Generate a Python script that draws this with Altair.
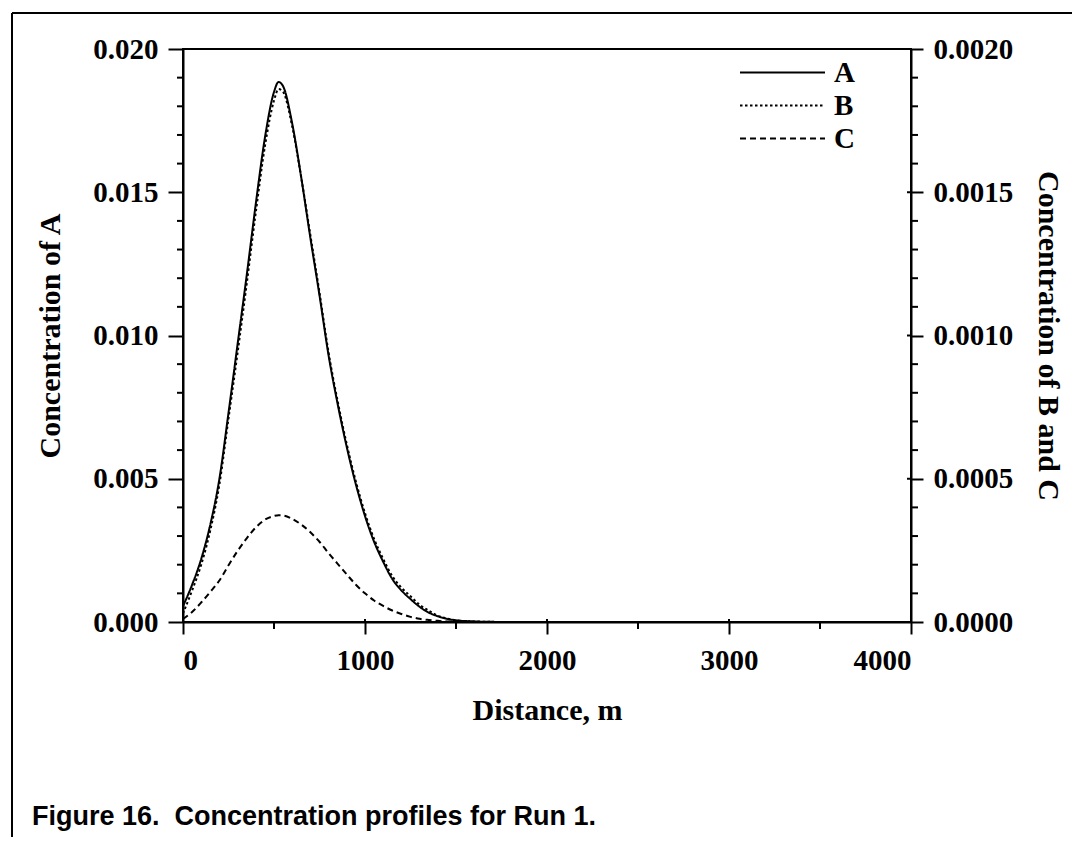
import altair as alt
import pandas as pd

# ---- data ----
dist = [0, 50, 100, 150, 200, 250, 300, 350, 400, 450, 500, 525, 550, 600, 650, 700,
        750, 800, 850, 900, 950, 1000, 1050, 1100, 1150, 1200, 1250, 1300, 1350, 1400,
        1450, 1500, 1600, 1700, 1800, 2000, 2500, 3000, 3500, 4000]

conc_a = [0.00055, 0.0013, 0.0022, 0.0034, 0.0050, 0.0073, 0.0097, 0.0121, 0.0146, 0.0169,
          0.0185, 0.01885, 0.0187, 0.0174, 0.0155, 0.0134, 0.0114, 0.0093, 0.0076, 0.0061,
          0.0048, 0.0037, 0.0028, 0.0021, 0.0015, 0.0011, 0.0008, 0.00053, 0.00033, 0.0002,
          0.00011, 0.00006, 0.00002, 0.000005, 0, 0, 0, 0, 0, 0]

conc_b = [0.00003, 0.00011, 0.00020, 0.00032, 0.00048, 0.00071, 0.00094, 0.00118, 0.00143, 0.00166,
          0.00182, 0.00186, 0.00185, 0.00173, 0.00155, 0.00135, 0.00115, 0.00094, 0.00077, 0.00062,
          0.00049, 0.00038, 0.00029, 0.00022, 0.00016, 0.00012, 0.00009, 0.00006, 0.00004, 0.000022,
          0.000012, 0.000006, 0.000002, 0.0000005, 0, 0, 0, 0, 0, 0]

conc_c = [0.000011, 0.000035, 0.000068, 0.000105, 0.000145, 0.000198, 0.000248, 0.000292, 0.00033, 0.000357,
          0.00037, 0.000373, 0.000372, 0.00036, 0.00034, 0.000313, 0.00028, 0.00024, 0.000203, 0.000166,
          0.00013, 0.0001, 0.000075, 0.000056, 0.00004, 0.000028, 0.000018, 0.000011, 0.000007, 0.000004,
          0.000002, 0.000001, 0, 0, 0, 0, 0, 0, 0, 0]

series_names = ["A", "B", "C"]

x_major = [0, 1000, 2000, 3000, 4000]
x_minor = [500, 1500, 2500, 3500]
left_major = [0.0, 0.005, 0.010, 0.015, 0.020]
left_minor = [0.001, 0.002, 0.003, 0.004, 0.006, 0.007, 0.008, 0.009,
              0.011, 0.012, 0.013, 0.014, 0.016, 0.017, 0.018, 0.019]
right_major = [0.0, 0.0005, 0.0010, 0.0015, 0.0020]
right_minor = [0.0001, 0.0002, 0.0003, 0.0004, 0.0006, 0.0007, 0.0008, 0.0009,
               0.0011, 0.0012, 0.0013, 0.0014, 0.0016, 0.0017, 0.0018, 0.0019]

caption = "Figure 16.\u00a0 Concentration profiles for Run 1."

# ---- layout ----
W, H = 728, 573
SERIF = "Liberation Serif"
SANS = "Liberation Sans"

df_a = pd.DataFrame({"dist": dist, "conc": conc_a, "series": "A"})
df_bc = pd.concat([
    pd.DataFrame({"dist": dist, "conc": conc_b, "series": "B"}),
    pd.DataFrame({"dist": dist, "conc": conc_c, "series": "C"}),
], ignore_index=True)
one = pd.DataFrame({"k": [0]})

x_scale = alt.Scale(domain=[0, 4000], nice=False)
x_axis = alt.Axis(values=x_major, format="d", title="Distance, m", tickSize=12,
                  labelPadding=12, titlePadding=20)
yl_scale = alt.Scale(domain=[0, 0.02], nice=False)
yr_scale = alt.Scale(domain=[0, 0.002], nice=False)
yl_axis = alt.Axis(orient="left", values=left_major, format=".3f",
                   title="Concentration of A", tickSize=15, labelPadding=10,
                   titlePadding=27)
yr_axis = alt.Axis(orient="right", values=right_major, format=".4f",
                   title="Concentration of B and C", tickSize=12, labelPadding=10,
                   titlePadding=20)

dash_scale = alt.Scale(domain=series_names, range=[[1, 0], [2.5, 2.5], [6, 4]])
legend = alt.Legend(title=None, orient="none", legendX=556, legendY=8,
                    symbolType="stroke", symbolSize=7225, symbolStrokeWidth=2,
                    symbolStrokeColor="black", clipHeight=31, rowPadding=2,
                    labelFont=SERIF, labelFontWeight="bold", labelFontSize=29,
                    labelColor="black", labelOffset=8, padding=0)

line_a = alt.Chart(df_a).mark_line(color="black", strokeWidth=2, interpolate="monotone").encode(
    x=alt.X("dist:Q", scale=x_scale, axis=x_axis),
    y=alt.Y("conc:Q", scale=yl_scale, axis=yl_axis),
    strokeDash=alt.StrokeDash("series:N", scale=dash_scale, legend=legend),
)

minor_left = alt.Chart(pd.DataFrame({"v": left_minor})).mark_rule(color="black", strokeWidth=2).encode(
    y=alt.Y("v:Q", scale=yl_scale, axis=yl_axis),
    x=alt.value(-6), x2=alt.value(0),
)

minor_x = alt.Chart(pd.DataFrame({"v": x_minor})).mark_rule(color="black", strokeWidth=2).encode(
    x=alt.X("v:Q", scale=x_scale, axis=x_axis),
    y=alt.value(H), y2=alt.value(H + 7),
)

major_x_inner = alt.Chart(pd.DataFrame({"v": x_major})).mark_rule(color="black", strokeWidth=2).encode(
    x=alt.X("v:Q", scale=x_scale, axis=x_axis),
    y=alt.value(H - 3), y2=alt.value(H),
)

frame_left = alt.Chart(one).mark_rule(color="black", strokeWidth=2).encode(
    x=alt.value(-171), y=alt.value(-36), y2=alt.value(790))
frame_top = alt.Chart(one).mark_rule(color="black", strokeWidth=2).encode(
    x=alt.value(-171), x2=alt.value(900), y=alt.value(-36))

left_group = alt.layer(line_a, minor_left, minor_x, major_x_inner, frame_left, frame_top)

line_bc = alt.Chart(df_bc).mark_line(color="black", strokeWidth=2, interpolate="monotone").encode(
    x=alt.X("dist:Q", scale=x_scale, axis=x_axis),
    y=alt.Y("conc:Q", scale=yr_scale, axis=yr_axis),
    strokeDash=alt.StrokeDash("series:N", scale=dash_scale, legend=legend),
)

minor_right = alt.Chart(pd.DataFrame({"v": right_minor})).mark_rule(color="black", strokeWidth=2).encode(
    y=alt.Y("v:Q", scale=yr_scale, axis=yr_axis),
    x=alt.value(W), x2=alt.value(W + 7),
)

major_right_inner = alt.Chart(pd.DataFrame({"v": right_major})).mark_rule(color="black", strokeWidth=2).encode(
    y=alt.Y("v:Q", scale=yr_scale, axis=yr_axis),
    x=alt.value(W - 4), x2=alt.value(W),
)

right_group = alt.layer(line_bc, minor_right, major_right_inner)

chart = alt.layer(left_group, right_group).resolve_scale(y="independent").properties(
    width=W, height=H,
    background="white",
    autosize=alt.AutoSizeParams(type="none"),
    padding={"left": 175, "top": 41, "right": 161, "bottom": 215},
    title=alt.TitleParams(caption, orient="bottom", anchor="start", frame="group",
                          font=SANS, fontSize=27, fontWeight="bold", color="black",
                          offset=-36, dx=-151),
).configure_view(
    stroke="black", strokeWidth=2
).configure_axis(
    grid=False, domainColor="black", domainWidth=2, tickColor="black", tickWidth=2,
    labelFont=SERIF, labelFontWeight="bold", labelFontSize=29, labelColor="black",
    titleFont=SERIF, titleFontWeight="bold", titleFontSize=30, titleColor="black",
)

chart.save("out.html", embed_options={"renderer": "svg", "actions": False})
